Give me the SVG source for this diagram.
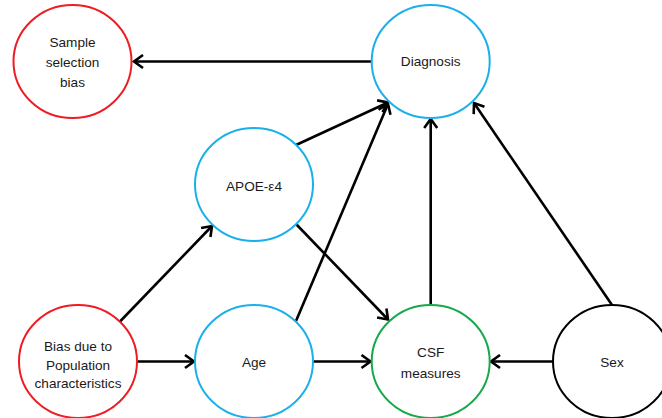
<svg xmlns="http://www.w3.org/2000/svg" width="662" height="418" viewBox="0 0 662 418">
<style>
.node{fill:#fff;stroke-width:2}
.red{stroke:#ee1c23}
.blue{stroke:#1ab0ea}
.green{stroke:#16a94a}
.black{stroke:#000}
text{font-family:"Liberation Sans",Arial,sans-serif;font-size:13.6px;fill:#1a1a1a;text-anchor:middle;dominant-baseline:central}
.edge{stroke:#000;stroke-width:2.6;fill:none;marker-end:url(#arr)}
</style>
<defs>
<marker id="arr" markerUnits="userSpaceOnUse" markerWidth="14" markerHeight="16" refX="11" refY="8" orient="auto" viewBox="0 0 14 16">
<path d="M2,1.5 L11,8 L2,14.5" fill="none" stroke="#000" stroke-width="2.6"/>
</marker>
</defs>
<rect width="662" height="418" fill="#fff"/>
<g id="connectors">
<line class="edge" x1="372" y1="61.5" x2="134" y2="61.5"/>
<line class="edge" x1="296" y1="145" x2="388" y2="102.5"/>
<line class="edge" x1="296" y1="321" x2="388" y2="104"/>
<line class="edge" x1="430.7" y1="305" x2="430.7" y2="119"/>
<line class="edge" x1="612" y1="305" x2="474" y2="103"/>
<line class="edge" x1="296" y1="224" x2="388" y2="319.5"/>
<line class="edge" x1="120" y1="321.5" x2="212" y2="226"/>
<line class="edge" x1="137" y1="361.5" x2="194" y2="361.5"/>
<line class="edge" x1="313" y1="361.5" x2="370.5" y2="361.5"/>
<line class="edge" x1="553" y1="361.5" x2="491" y2="361.5"/>
</g>
<g id="sample-selection-bias">
<ellipse class="node red" cx="72.5" cy="61.5" rx="59" ry="56.5"/>
<text x="72.5" y="42.3">Sample</text>
<text x="72.5" y="62.3">selection</text>
<text x="72.5" y="82.3">bias</text>
</g>
<g id="diagnosis">
<ellipse class="node blue" cx="430.7" cy="61.5" rx="59" ry="56.5"/>
<text x="430.7" y="61.7">Diagnosis</text>
</g>
<g id="apoe">
<ellipse class="node blue" cx="254" cy="184.5" rx="59" ry="56.5"/>
<text x="254" y="186.5">APOE-ε4</text>
</g>
<g id="bias-population">
<ellipse class="node red" cx="78" cy="361.5" rx="59" ry="56.5"/>
<text x="78" y="346.3">Bias due to</text>
<text x="78" y="365.5">Population</text>
<text x="78" y="383.2">characteristics</text>
</g>
<g id="age">
<ellipse class="node blue" cx="254" cy="361.5" rx="59" ry="56.5"/>
<text x="254" y="362.3">Age</text>
</g>
<g id="csf">
<ellipse class="node green" cx="430.7" cy="361.5" rx="59" ry="56.5"/>
<text x="430.7" y="352.3">CSF</text>
<text x="430.7" y="373">measures</text>
</g>
<g id="sex">
<ellipse class="node black" cx="612" cy="361.5" rx="59" ry="56.5"/>
<text x="612" y="362.3">Sex</text>
</g>
</svg>
